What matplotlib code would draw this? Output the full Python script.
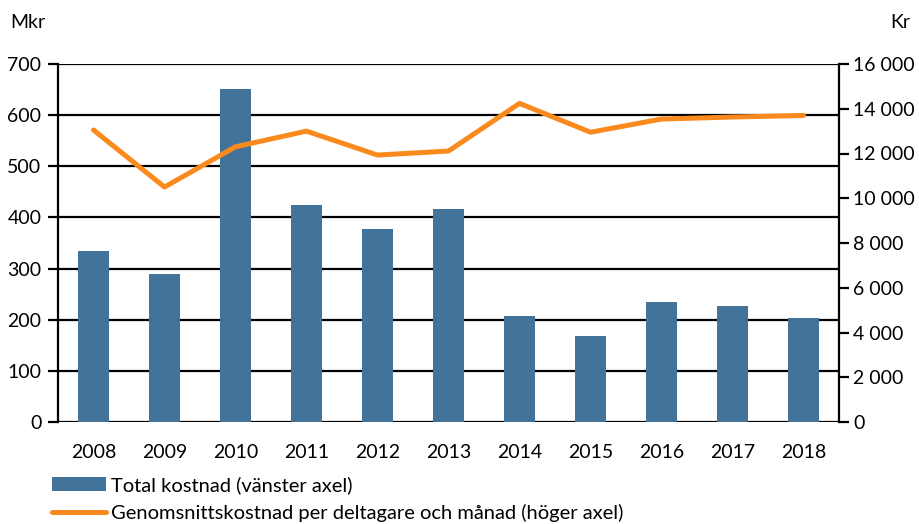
import matplotlib
matplotlib.use("Agg")
import matplotlib.pyplot as plt
from matplotlib.ticker import FuncFormatter

years = ["2008", "2009", "2010", "2011", "2012", "2013", "2014", "2015", "2016", "2017", "2018"]
total_cost = [335, 289, 651, 425, 378, 417, 207, 168, 234, 226, 203]
avg_cost = [13050, 10500, 12300, 13000, 11930, 12110, 14240, 12950, 13540, 13630, 13700]
left_ticks = [0, 100, 200, 300, 400, 500, 600, 700]
right_ticks = [0, 2000, 4000, 6000, 8000, 10000, 12000, 14000, 16000]

plt.rcParams['font.family'] = ['Lato', 'DejaVu Sans']
BAR = '#437398'
ORANGE = '#FA8A1E'
FS = 14

fig = plt.figure(figsize=(9.2, 5.24), dpi=100)
ax = fig.add_axes([58/920, 1-422/524, (839-58)/920, (422-64)/524])
x = list(range(len(years)))
bars = ax.bar(x, total_cost, width=0.43, color=BAR, zorder=3, label='Total kostnad (vänster axel)')
ax.set_xlim(-0.5, len(years)-0.5)
ax.set_ylim(0, 700)
ax.set_yticks(left_ticks)
ax.set_xticks(x)
ax.set_xticklabels(years)
for v in left_ticks:
    ax.axhline(v, color='black', lw=1.6, zorder=2)
for s in ['top', 'right', 'bottom']:
    ax.spines[s].set_visible(False)
ax.spines['left'].set_linewidth(1.6)
ax.tick_params(axis='y', direction='out', length=7, width=1.6, labelsize=FS, pad=5)
ax.tick_params(axis='x', length=0, labelsize=FS, pad=16)

ax2 = ax.twinx()
line, = ax2.plot(x, avg_cost, color=ORANGE, lw=3.6, solid_capstyle='round', zorder=4,
                 label='Genomsnittskostnad per deltagare och månad (höger axel)')
ax2.set_ylim(0, 16000)
ax2.set_yticks(right_ticks)
ax2.yaxis.set_major_formatter(FuncFormatter(lambda v, p: f"{int(v):,}".replace(",", " ")))
for s in ['top', 'left', 'bottom']:
    ax2.spines[s].set_visible(False)
ax2.spines['right'].set_linewidth(1.6)
ax2.tick_params(axis='y', direction='out', length=7, width=1.6, labelsize=FS, pad=3)

fig.text(10/920, 1-22/524, 'Mkr', fontsize=FS, va='center', ha='left')
fig.text(910/920, 1-22/524, 'Kr', fontsize=FS, va='center', ha='right')

fig.legend([bars, line], [bars.get_label(), line.get_label()], loc='upper left',
           bbox_to_anchor=(52/920, 1-476/524), frameon=False, fontsize=14.5,
           handlelength=2.7, handletextpad=0.25, labelspacing=0.5, borderaxespad=0, borderpad=0)

fig.savefig('out.png', dpi=100)
